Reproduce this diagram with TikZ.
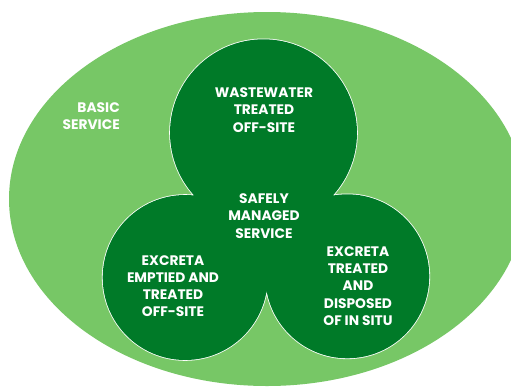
\documentclass[tikz,border=0pt]{standalone}
\usepackage{fontspec}
\setmainfont{Poppins}
\usetikzlibrary{positioning}
\definecolor{basic}{HTML}{77C766}
\definecolor{safe}{HTML}{007A28}
\tikzset{
  Petal/.style={fill=safe, draw=white, line width=1.6pt},
  PetalFill/.style={fill=safe},
  Label/.style={text=white, font=\bfseries\fontsize{13.8}{17.2}\selectfont,
    align=center, inner sep=0pt}
}

\begin{document}
\begin{tikzpicture}[x=1pt, y=-1pt, line join=round]
  \useasboundingbox (0,0) rectangle (511,386);
  \clip (0,0) rectangle (511,386);

  % outer region
  \fill[basic] (267,199) ellipse [x radius=258, y radius=187];

  \coordinate (TopC) at (263.5,132.8);
  \coordinate (LeftC) at (185.2,277.5);
  \coordinate (RightC) at (347.3,276.3);

  % three circles, white rim only on the outside
  \path[Petal] (TopC) circle[radius=93.5] (LeftC) circle[radius=82.5]
    (RightC) circle[radius=82];
  \fill[PetalFill] (TopC) circle[radius=93.5] (LeftC) circle[radius=82.5]
    (RightC) circle[radius=82];
  \fill[PetalFill] (TopC) -- (LeftC) -- (RightC) -- cycle;

  \node[Label, anchor=east, align=right] (Basic) at (120,116) {BASIC\\SERVICE};
  \node[Label] (Waste) at (264,110) {WASTEWATER\\TREATED\\OFF-SITE};
  \node[Label] (Safe) at (264,216) {SAFELY\\MANAGED\\SERVICE};
  \node[Label] (Emptied) at (173,286) {EXCRETA\\EMPTIED AND\\TREATED\\OFF-SITE};
  \node[Label] (InSitu) at (358,286) {EXCRETA\\TREATED\\AND\\DISPOSED\\OF IN SITU};
\end{tikzpicture}
\end{document}
